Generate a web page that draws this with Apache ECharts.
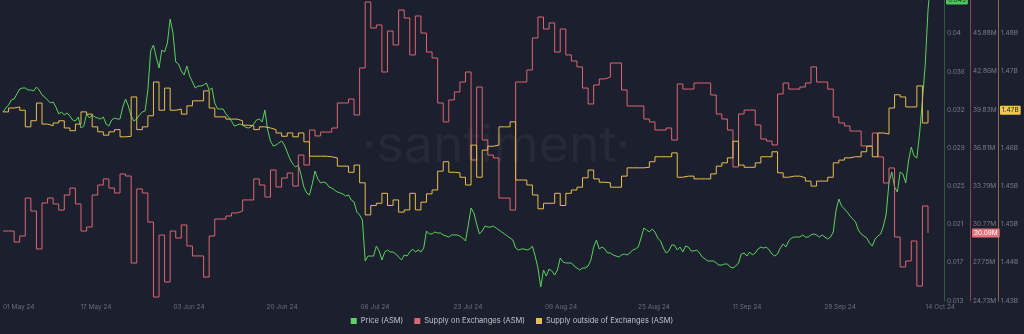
<!DOCTYPE html>
<html><head><meta charset="utf-8">
<script src="https://cdn.jsdelivr.net/npm/echarts@6/dist/echarts.min.js"></script>
<style>html,body{margin:0;padding:0;background:#1c1f2d;}#c{width:1024px;height:334px;}</style>
</head><body><div id="c"></div><script>
// ---- data ----
const START = Date.UTC(2024, 4, 1);
const DAY = 86400000;
// Price (ASM), one sample every 12 hours from 01 May 24
const priceValues = [
.03206,.03246,.03277,.03327,.03337,.03388,.03438,.03448,.03448,.03428,
.03428,.03418,.03458,.03428,.03378,.03357,.03327,.03297,.03307,.03256,
.03186,.03206,.03176,.03196,.03165,.03125,.03115,.03155,.03044,.03064,
.03186,.03145,.03176,.03155,.03145,.03135,.03155,.03085,.03064,.03125,
.03145,.03135,.03135,.03256,.03337,.03266,.03165,.03115,.03135,.03176,
.03206,.03216,.03428,.03822,.03882,.03761,.03650,.03832,.03812,.03903,
.04145,.04004,.03711,.03691,.03620,.03580,.03670,.03569,.03509,.03448,
.03468,.03468,.03478,.03499,.03428,.03448,.03297,.03236,.03236,.03236,
.03186,.03155,.03115,.03064,.03074,.03085,.03074,.03054,.03044,.03054,
.03085,.03125,.03135,.03105,.03226,.03024,.02913,.02862,.02872,.02893,
.02913,.02872,.02802,.02731,.02681,.02650,.02670,.02570,.02448,.02388,
.02368,.02479,.02610,.02529,.02489,.02499,.02489,.02448,.02438,.02418,
.02398,.02388,.02378,.02357,.02368,.02317,.02297,.02196,.02166,.02115,
.01701,.01751,.01751,.01751,.01852,.01802,.01711,.01792,.01812,.01792,
.01792,.01772,.01741,.01711,.01762,.01751,.01792,.01822,.01792,.01812,
.01792,.01832,.02004,.01974,.01974,.01994,.01984,.01984,.01964,.01953,
.01943,.01964,.01964,.01964,.01953,.01933,.01903,.02064,.02236,.02186,
.02075,.01974,.02004,.02054,.02044,.02044,.02054,.02034,.02014,.01994,
.01974,.01953,.01933,.01913,.01832,.01812,.01822,.01822,.01812,.01822,
.01852,.01751,.01630,.01438,.01610,.01549,.01620,.01600,.01559,.01610,
.01731,.01691,.01681,.01681,.01681,.01650,.01630,.01610,.01630,.01630,
.01650,.01711,.01842,.01913,.01822,.01842,.01822,.01782,.01782,.01762,
.01751,.01741,.01762,.01772,.01762,.01782,.01812,.01822,.01842,.01933,
.02034,.02014,.01994,.02024,.01994,.01933,.01903,.01832,.01782,.01802,
.01862,.01862,.01812,.01842,.01792,.01852,.01842,.01802,.01802,.01812,
.01782,.01741,.01721,.01701,.01701,.01701,.01681,.01660,.01660,.01671,
.01671,.01640,.01630,.01650,.01681,.01772,.01782,.01751,.01792,.01762,
.01782,.01822,.01842,.01832,.01842,.01812,.01772,.01751,.01772,.01832,
.01873,.01842,.01903,.01933,.01943,.01943,.01943,.01964,.01943,.01943,
.01964,.01974,.01964,.01943,.01964,.01943,.01923,.01943,.01994,.02216,
.02327,.02256,.02226,.02196,.02155,.02125,.02095,.02014,.01974,.01953,
.01933,.01883,.01852,.01923,.01953,.01974,.02054,.02176,.02499,.02600,
.02448,.02398,.02600,.02580,.02489,.02711,.02852,.02761,.02741,.02994,
.03327,.03681,.04236,.04539
];
// Supply on Exchanges (ASM), daily, millions
const supplyOnExchangesM = [
30.24,30.24,29.37,29.85,32.85,31.82,28.82,32.46,32.85,32.38,
31.90,33.09,33.64,32.38,30.24,30.56,33.09,33.88,34.36,33.64,
33.25,34.75,34.59,27.71,33.57,33.25,30.95,25.02,29.92,26.21,
30.24,29.69,30.72,29.06,28.27,28.27,26.60,29.85,31.19,31.19,
31.43,31.67,31.82,32.70,32.70,34.36,33.88,32.93,35.07,33.72,
34.43,34.83,33.80,36.25,35.46,38.23,37.76,38.07,38.07,38.39,
40.37,40.37,40.68,39.42,43.14,48.36,46.30,46.54,42.82,46.06,
44.96,47.72,47.09,44.17,47.25,45.90,44.40,43.93,40.37,38.87,
40.61,41.24,42.03,42.82,35.86,41.63,37.44,36.25,36.02,32.85,
32.85,31.90,42.03,42.03,42.98,45.51,47.17,46.22,46.70,44.40,
46.22,44.17,43.69,43.22,41.55,40.29,41.79,42.27,42.42,43.53,
43.53,41.40,40.13,40.13,40.13,39.10,38.87,38.23,38.23,38.39,
37.44,41.87,41.47,41.47,41.95,41.95,41.95,41.00,39.50,39.10,
38.23,35.31,39.50,39.81,39.81,38.63,37.52,37.36,37.05,41.08,
41.95,41.47,41.47,41.63,41.95,43.22,42.03,42.03,41.47,39.26,
38.79,38.55,38.15,38.15,36.97,36.97,37.99,36.10,34.04,35.23,
29.77,27.40,27.87,29.45,25.89,32.22,30.09
];
// Supply outside of Exchanges (ASM), daily, billions
const supplyOutsideB = [
1.4676,1.4683,1.4685,1.4679,1.4649,1.4660,1.4692,1.4654,1.4651,1.4656,
1.4660,1.4647,1.4642,1.4654,1.4676,1.4672,1.4649,1.4640,1.4634,1.4640,
1.4644,1.4631,1.4632,1.4703,1.4644,1.4649,1.4669,1.4730,1.4679,1.4719,
1.4679,1.4681,1.4672,1.4687,1.4696,1.4696,1.4714,1.4683,1.4667,1.4667,
1.4663,1.4663,1.4660,1.4652,1.4651,1.4644,1.4649,1.4647,1.4644,1.4638,
1.4632,1.4638,1.4631,1.4638,1.4622,1.4596,1.4596,1.4596,1.4595,1.4593,
1.4578,1.4578,1.4567,1.4580,1.4548,1.4490,1.4507,1.4511,1.4529,1.4507,
1.4517,1.4495,1.4499,1.4529,1.4499,1.4513,1.4528,1.4535,1.4569,1.4586,
1.4567,1.4566,1.4558,1.4544,1.4616,1.4558,1.4607,1.4614,1.4616,1.4649,
1.4649,1.4658,1.4553,1.4553,1.4544,1.4526,1.4501,1.4511,1.4511,1.4529,
1.4507,1.4529,1.4535,1.4540,1.4557,1.4571,1.4555,1.4549,1.4548,1.4540,
1.4540,1.4560,1.4575,1.4575,1.4575,1.4576,1.4586,1.4595,1.4595,1.4595,
1.4602,1.4558,1.4560,1.4560,1.4555,1.4555,1.4555,1.4564,1.4578,1.4584,
1.4593,1.4623,1.4580,1.4576,1.4576,1.4584,1.4595,1.4595,1.4604,1.4566,
1.4558,1.4560,1.4560,1.4557,1.4551,1.4542,1.4551,1.4551,1.4558,1.4584,
1.4589,1.4593,1.4595,1.4595,1.4604,1.4614,1.4595,1.4638,1.4636,1.4683,
1.4707,1.4703,1.4685,1.4685,1.4723,1.4656,1.4679
];
const xTickLabels = ['01 May 24','17 May 24','03 Jun 24','20 Jun 24','06 Jul 24','23 Jul 24','09 Aug 24','25 Aug 24','11 Sep 24','28 Sep 24','14 Oct 24'];
const priceTickLabels = ['0.013','0.017','0.021','0.025','0.029','0.032','0.036','0.04'];
const onExTickLabels = ['24.73M','27.75M','30.77M','33.79M','36.81M','39.83M','42.86M','45.88M'];
const outTickLabels = ['1.43B','1.44B','1.45B','1.45B','1.46B','1.47B','1.47B','1.48B'];

// ---- layout / scales ----
const X_MAX = START + 168.87 * DAY;
const X_STEP = 16.69 * DAY;
const xTickValues = xTickLabels.map((_, k) => k < xTickLabels.length - 1 ? START + k * X_STEP : START + 168.2 * DAY);
function ticks(lo, hi, n) { const a = []; for (let k = 0; k < n; k++) a.push(lo + k * (hi - lo) / (n - 1)); return a; }
const priceTicks = ticks(0.013, 0.04, 8);
const onExTicks = ticks(24.73, 45.88, 8);
const outTicks = ticks(1.4335, 1.4818, 8);
function labelFor(arr, vals) { return v => { let b = 0, d = Infinity; vals.forEach((t, i) => { const e = Math.abs(t - v); if (e < d) { d = e; b = i; } }); return arr[b]; }; }

const C_GREEN = '#5ad25f', C_RED = '#dd6670', C_YEL = '#e8bd4f';
const FONT = 'Inter, Roboto, sans-serif';

const priceData = priceValues.map((v, i) => [START + i * DAY / 2, v]);
const onExData = supplyOnExchangesM.map((v, i) => [START + i * DAY, v]);
const outData = supplyOutsideB.map((v, i) => [START + i * DAY, v]);

function yAx(color, offset, min, max, tv, tl) {
  return {
    type: 'value', position: 'right', offset: offset, min: min, max: max,
    splitLine: { show: false }, axisTick: { show: false },
    axisLine: { show: true, lineStyle: { color: color, width: 1 } },
    axisLabel: { customValues: tv, formatter: labelFor(tl, tv), color: '#7a7d8c', fontSize: 6.5, margin: 3, fontFamily: FONT }
  };
}

const chart = echarts.init(document.getElementById('c'), null, { renderer: 'canvas' });
chart.setOption({
  backgroundColor: '#1c1f2d',
  animation: false,
  grid: { left: 0, right: 80, top: 0, bottom: 33 },
  legend: {
    bottom: 4, left: 'center', icon: 'rect', itemWidth: 6, itemHeight: 6, itemGap: 11,
    textStyle: { color: '#c3c5ce', fontSize: 7.5, fontFamily: FONT, padding: [0, 0, 0, -1] },
    data: ['Price (ASM)', 'Supply on Exchanges (ASM)', 'Supply outside of Exchanges (ASM)']
  },
  xAxis: {
    type: 'value', min: START, max: X_MAX,
    axisLine: { show: false }, axisTick: { show: false }, splitLine: { show: false },
    axisLabel: { customValues: xTickValues, formatter: labelFor(xTickLabels, xTickValues), color: '#6a6d7e', fontSize: 6.5, margin: 3, fontFamily: FONT, alignMinLabel: 'left', hideOverlap: false }
  },
  yAxis: [
    yAx('#2f5a3c', 0, 0.01297, 0.04337, priceTicks, priceTickLabels),
    yAx('#8a4450', 26, 24.706, 48.515, onExTicks, onExTickLabels),
    yAx('#8a7040', 54, 1.43345, 1.48781, outTicks, outTickLabels)
  ],
  series: [
    { name: 'Price (ASM)', type: 'line', yAxisIndex: 0, data: priceData, showSymbol: false, symbol: 'none', lineStyle: { color: C_GREEN, width: 1 }, itemStyle: { color: C_GREEN } },
    { name: 'Supply on Exchanges (ASM)', type: 'line', yAxisIndex: 1, step: 'end', data: onExData, showSymbol: false, symbol: 'none', lineStyle: { color: C_RED, width: 1 }, itemStyle: { color: C_RED } },
    { name: 'Supply outside of Exchanges (ASM)', type: 'line', yAxisIndex: 2, step: 'end', data: outData, showSymbol: false, symbol: 'none', lineStyle: { color: C_YEL, width: 1 }, itemStyle: { color: C_YEL } }
  ]
});

// last-value badges on the axes + watermark
const lastP = priceValues[priceValues.length - 1];
const lastR = supplyOnExchangesM[supplyOnExchangesM.length - 1];
const lastY = supplyOutsideB[supplyOutsideB.length - 1];
const gridRight = 1024 - 80;
function yPix(idx, v) { return chart.convertToPixel({ yAxisIndex: idx }, v); }
function badge(x, y, text, bg, fg) {
  return { type: 'text', z: 100, x: x, y: y, style: { text: text, fill: fg, backgroundColor: bg, padding: [1, 2, 1, 2], borderRadius: 1, font: '6.5px ' + FONT, verticalAlign: 'middle', align: 'left' } };
}
chart.setOption({
  graphic: [
    { type: 'text', z: -1, x: 496, y: 146, style: { text: '·santiment·', fill: '#252939', font: '52px ' + FONT, align: 'center', verticalAlign: 'middle' } },
    badge(gridRight + 2, Math.max(0, yPix(0, lastP)), lastP.toFixed(3), '#4cc75a', '#10301a'),
    badge(gridRight + 28, yPix(1, lastR), lastR.toFixed(2) + 'M', '#e7727c', '#ffffff'),
    badge(gridRight + 56, yPix(2, lastY), lastY.toFixed(2) + 'B', '#f2c94c', '#1c1f2d')
  ]
});
</script></body></html>
